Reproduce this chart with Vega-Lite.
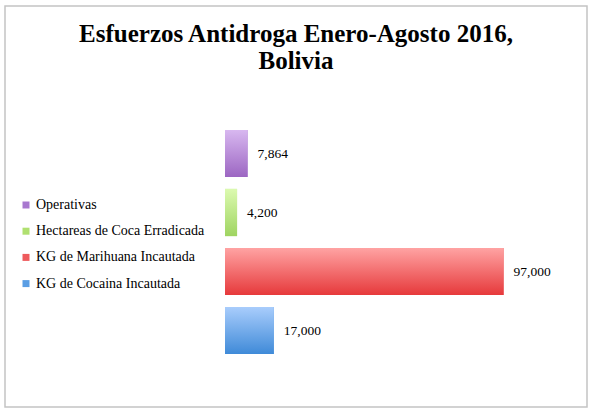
{
  "$schema": "https://vega.github.io/schema/vega-lite/v6.json",
  "width": 582,
  "height": 401,
  "autosize": "none",
  "padding": {"left": 5, "top": 6, "right": 5, "bottom": 10},
  "background": "white",
  "config": {
    "view": {"stroke": "#c4c4c4", "strokeWidth": 1.5},
    "font": "Liberation Serif"
  },
  "title": {
    "text": ["Esfuerzos Antidroga Enero-Agosto 2016,", "Bolivia"],
    "font": "Liberation Serif",
    "fontSize": 25,
    "fontWeight": "bold",
    "color": "black",
    "anchor": "middle",
    "baseline": "alphabetic",
    "lineHeight": 27.5,
    "offset": -88
  },
  "data": {
    "values": [
      {"categoria": "Operativas", "valor": 7864},
      {"categoria": "Hectareas de Coca Erradicada", "valor": 4200},
      {"categoria": "KG de Marihuana Incautada", "valor": 97000},
      {"categoria": "KG de Cocaina Incautada", "valor": 17000}
    ]
  },
  "encoding": {
    "y": {
      "field": "categoria",
      "type": "nominal",
      "sort": ["Operativas", "Hectareas de Coca Erradicada", "KG de Marihuana Incautada", "KG de Cocaina Incautada"],
      "axis": null,
      "scale": {"range": [118, 354], "paddingInner": 0.2, "paddingOuter": 0.1}
    },
    "x": {
      "field": "valor",
      "type": "quantitative",
      "axis": null,
      "scale": {"domain": [-76600, 126040], "nice": false, "zero": false}
    }
  },
  "layer": [
    {
      "mark": {"type": "bar"},
      "encoding": {
        "color": {
          "field": "categoria",
          "type": "nominal",
          "scale": {
            "domain": ["Operativas", "Hectareas de Coca Erradicada", "KG de Marihuana Incautada", "KG de Cocaina Incautada"],
            "range": ["#a878cf", "#b0e070", "#ee5a5c", "#5a9ee4"]
          },
          "legend": {
            "orient": "none",
            "legendX": 14,
            "legendY": 192,
            "title": null,
            "symbolType": "square",
            "symbolSize": 49,
            "symbolStrokeWidth": 0,
            "labelFont": "Liberation Serif",
            "labelFontSize": 14,
            "labelColor": "black",
            "labelOffset": 3,
            "labelLimit": 300,
            "rowPadding": 12.2
          }
        }
      }
    },
    {
      "mark": {"type": "bar"},
      "encoding": {
        "color": {
          "condition": [
            {
              "test": "datum.categoria == 'Operativas'",
              "value": {"gradient": "linear", "x1": 0, "y1": 0, "x2": 0, "y2": 1,
                "stops": [{"offset": 0, "color": "#d8b8f0"}, {"offset": 1, "color": "#9c66c2"}]}
            },
            {
              "test": "datum.categoria == 'Hectareas de Coca Erradicada'",
              "value": {"gradient": "linear", "x1": 0, "y1": 0, "x2": 0, "y2": 1,
                "stops": [{"offset": 0, "color": "#dcfab0"}, {"offset": 1, "color": "#9fd461"}]}
            },
            {
              "test": "datum.categoria == 'KG de Marihuana Incautada'",
              "value": {"gradient": "linear", "x1": 0, "y1": 0, "x2": 0, "y2": 1,
                "stops": [{"offset": 0, "color": "#ffa3a3"}, {"offset": 1, "color": "#e6393b"}]}
            }
          ],
          "value": {"gradient": "linear", "x1": 0, "y1": 0, "x2": 0, "y2": 1,
            "stops": [{"offset": 0, "color": "#a9cdfc"}, {"offset": 1, "color": "#3f8ad8"}]}
        }
      }
    },
    {
      "mark": {"type": "text", "align": "left", "baseline": "middle", "dx": 10, "fontSize": 13.5, "color": "black"},
      "encoding": {
        "text": {"field": "valor", "type": "quantitative", "format": ","}
      }
    }
  ]
}
